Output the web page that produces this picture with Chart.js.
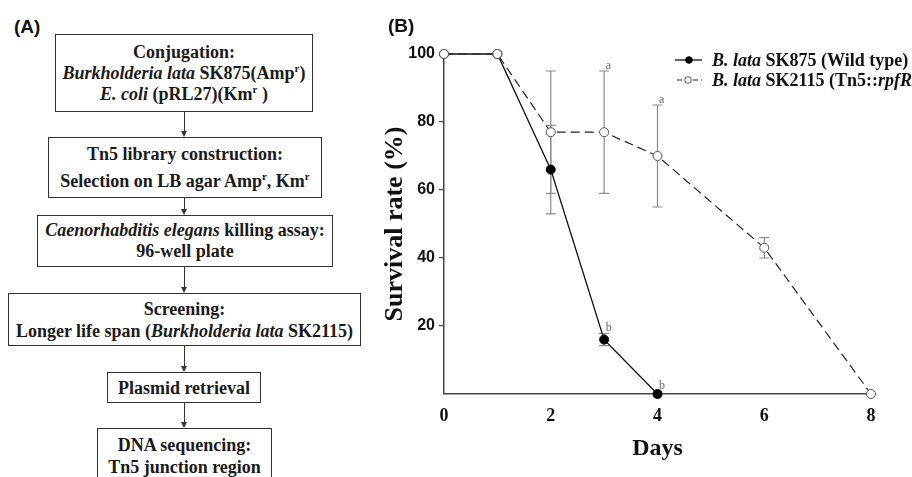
<!DOCTYPE html>
<html>
<head>
<meta charset="utf-8">
<script src="https://cdn.jsdelivr.net/npm/chart.js@4.4.1/dist/chart.umd.min.js"></script>
<style>
  html, body { margin:0; padding:0; background:#fff; }
  body { width:912px; height:477px; overflow:hidden; position:relative; }
  .panel { position:absolute; font:bold 19px "Liberation Sans", Arial, sans-serif; color:#111; }
  .box { position:absolute; box-sizing:border-box; border:1.6px solid #333; display:flex; flex-direction:column;
         justify-content:center; align-items:center; font:bold 18px "Liberation Serif", "Times New Roman", serif;
         color:#1a1a1a; white-space:nowrap; background:#fff; }
  .box sup { font-size:11px; vertical-align:7px; line-height:0; }
  .stem { position:absolute; width:1.6px; background:#333; }
  .head { position:absolute; width:0; height:0; border-left:3.5px solid transparent; border-right:3.5px solid transparent; border-top:6px solid #333; }
  #chartWrap { position:absolute; left:380px; top:0; width:532px; height:477px; }
</style>
</head>
<body>
<div class="panel" style="left:14px;top:16px;">(A)</div>
<div class="panel" style="left:388px;top:15px;z-index:2;">(B)</div>

<div class="box" style="left:55px;top:34px;width:258px;height:78px;line-height:21px;">
  <div>Conjugation:</div>
  <div><i>Burkholderia lata</i> SK875(Amp<sup>r</sup>)</div>
  <div><i>E. coli</i> (pRL27)(Km<sup>r</sup> )</div>
</div>
<div class="box" style="left:48px;top:137px;width:274px;height:61px;line-height:27px;">
  <div>Tn5 library construction:</div>
  <div>Selection on LB agar Amp<sup>r</sup>, Km<sup>r</sup></div>
</div>
<div class="box" style="left:37px;top:215px;width:296px;height:52px;line-height:21px;">
  <div><i>Caenorhabditis elegans</i> killing assay:</div>
  <div>96-well plate</div>
</div>
<div class="box" style="left:8px;top:293px;width:353px;height:53px;line-height:22px;">
  <div>Screening:</div>
  <div>Longer life span (<i>Burkholderia lata</i> SK2115)</div>
</div>
<div class="box" style="left:107px;top:372px;width:154px;height:31px;line-height:22px;">
  <div>Plasmid retrieval</div>
</div>
<div class="box" style="left:97px;top:428px;width:175px;height:62px;line-height:22px;justify-content:flex-start;padding-top:5px;">
  <div>DNA sequencing:</div>
  <div>Tn5 junction region</div>
</div>

<div id="arrows"></div>

<div id="chartWrap"><canvas id="c" width="532" height="477"></canvas></div>

<script>
// ---- Flowchart connectors (panel A) ----
const arrowSpans = [[112,137],[198,215],[267,293],[346,372],[403,428]];
const arrowsEl = document.getElementById('arrows');
arrowSpans.forEach(([a,b]) => {
  const s = document.createElement('div'); s.className='stem';
  s.style.left='183.5px'; s.style.top=a+'px'; s.style.height=(b-a-5)+'px';
  const h = document.createElement('div'); h.className='head';
  h.style.left='180.8px'; h.style.top=(b-6)+'px';
  arrowsEl.appendChild(s); arrowsEl.appendChild(h);
});

// ---- Data (panel B) ----
const wtDays      = [0, 1, 2, 3, 4];
const wtSurvival  = [100, 100, 66, 16, 0];
const wtError     = [0, 0, 13, 1.8, 0];
const mutDays     = [0, 1, 2, 3, 4, 6, 8];
const mutSurvival = [100, 100, 77, 77, 70, 43, 0];
const mutError    = [0, 0, 18, 18, 15, 3, 0];
const xTickValues = [0, 2, 4, 6, 8];
const yTickValues = [20, 40, 60, 80, 100];
const wtLabel  = 'B. lata SK875 (Wild type)';
const mutLabel = 'B. lata SK2115 (Tn5::rpfR)';
// significance letters: [dataset index, day, letter]
const sigLetters = [[1, 3, 'a'], [1, 4, 'a'], [0, 3, 'b'], [0, 4, 'b']];

const seriesData = [[wtDays, wtSurvival, wtError], [mutDays, mutSurvival, mutError]];

const errorBars = {
  id: 'errorBars',
  beforeDatasetsDraw(chart) {
    const {ctx, scales: {x, y}} = chart;
    ctx.save();
    ctx.strokeStyle = '#8c8c8c'; ctx.lineWidth = 1.2;
    seriesData.forEach(([d, s, e]) => {
      d.forEach((day, i) => {
        if (!e[i]) return;
        const px = x.getPixelForValue(day);
        const t = y.getPixelForValue(s[i] + e[i]);
        const b = y.getPixelForValue(s[i] - e[i]);
        ctx.beginPath();
        ctx.moveTo(px, t); ctx.lineTo(px, b);
        ctx.moveTo(px - 5, t); ctx.lineTo(px + 5, t);
        ctx.moveTo(px - 5, b); ctx.lineTo(px + 5, b);
        ctx.stroke();
      });
    });
    ctx.restore();
  },
  afterDatasetsDraw(chart) {
    const {ctx, scales: {x, y}} = chart;
    ctx.save();
    ctx.fillStyle = '#6a6a6a';
    ctx.font = '12px "Liberation Serif", serif';
    ctx.textAlign = 'left'; ctx.textBaseline = 'alphabetic';
    sigLetters.forEach(([ds, day, txt]) => {
      const [d, s, e] = seriesData[ds];
      const i = d.indexOf(day);
      const px = x.getPixelForValue(day);
      const py = y.getPixelForValue(s[i] + e[i]);
      ctx.fillText(txt, px + 1.5, py - (e[i] ? 2 : 5));
    });
    ctx.restore();
  }
};

const legendPlugin = {
  id: 'customLegend',
  afterDraw(chart) {
    const {ctx} = chart;
    const ds = chart.data.datasets;
    const rows = [
      {y: 60, x0: 295, x1: 322, mx: 309, dsi: 0,
       parts: [['B. lata', true], [' SK875 (Wild type)', false]]},
      {y: 80, x0: 297, x1: 322, mx: 308, dsi: 1,
       parts: [['B. lata', true], [' SK2115 (Tn5::', false], ['rpfR', true], [')', false]]}
    ];
    rows.forEach(r => {
      const d = ds[r.dsi];
      ctx.save();
      ctx.strokeStyle = d.borderColor; ctx.lineWidth = d.borderWidth;
      ctx.setLineDash(r.dsi === 1 ? [5, 3] : []);
      ctx.beginPath(); ctx.moveTo(r.x0, r.y); ctx.lineTo(r.x1, r.y); ctx.stroke();
      ctx.setLineDash([]);
      ctx.beginPath(); ctx.arc(r.mx, r.y, 3.3, 0, Math.PI * 2);
      ctx.fillStyle = d.pointBackgroundColor; ctx.fill();
      ctx.strokeStyle = d.pointBorderColor; ctx.lineWidth = 1; ctx.stroke();
      let tx = 332;
      ctx.fillStyle = '#111'; ctx.textBaseline = 'middle';
      r.parts.forEach(([t, it]) => {
        ctx.font = (it ? 'italic ' : '') + 'bold 18px "Liberation Serif", serif';
        ctx.fillText(t, tx, r.y + 1);
        tx += ctx.measureText(t).width;
      });
      ctx.restore();
    });
  }
};

new Chart(document.getElementById('c'), {
  type: 'line',
  data: {
    datasets: [
      {
        label: wtLabel,
        data: wtDays.map((d, i) => ({x: d, y: wtSurvival[i]})),
        borderColor: '#111', borderWidth: 1.3,
        pointRadius: 4.5, pointBackgroundColor: '#000', pointBorderColor: '#000', pointBorderWidth: 1,
        tension: 0, clip: false, order: 2
      },
      {
        label: mutLabel,
        data: mutDays.map((d, i) => ({x: d, y: mutSurvival[i]})),
        borderColor: '#222', borderWidth: 1.2, borderDash: [9, 5],
        pointRadius: 4.5, pointBackgroundColor: '#fff', pointBorderColor: '#555', pointBorderWidth: 1,
        tension: 0, clip: false, order: 1
      }
    ]
  },
  options: {
    responsive: false,
    animation: false,
    devicePixelRatio: 1,
    layout: {padding: {left: 0, top: 54, right: 41, bottom: 0}},
    plugins: {legend: {display: false}, tooltip: {enabled: false}},
    scales: {
      x: {
        type: 'linear', min: 0, max: 8,
        afterBuildTicks: s => { s.ticks = xTickValues.map(v => ({value: v})); },
        afterFit: s => { s.height = 83; },
        grid: {display: false, drawTicks: false},
        border: {display: true, color: '#444', width: 1.5},
        ticks: {color: '#111', padding: 12, font: {family: '"Liberation Serif", serif', weight: 'bold', size: 18}},
        title: {display: true, text: 'Days', color: '#111', padding: {top: 0, bottom: 14},
                font: {family: '"Liberation Serif", serif', weight: 'bold', size: 24}}
      },
      y: {
        min: 0, max: 100,
        afterBuildTicks: s => { s.ticks = [0].concat(yTickValues).map(v => ({value: v})); },
        afterFit: s => { s.width = 64; },
        grid: {display: true, drawOnChartArea: false, drawTicks: true, tickLength: 5,
               color: c => (c.tick && c.tick.value === 0) ? 'rgba(0,0,0,0)' : '#444', lineWidth: 1.2},
        border: {display: true, color: '#444', width: 1.5},
        ticks: {color: '#111', padding: 4,
                callback: v => yTickValues.includes(v) ? String(v) : '',
                font: {family: '"Liberation Sans", Arial, sans-serif', weight: 'bold', size: 16}},
        title: {display: true, text: 'Survival rate (%)', color: '#111', padding: {top: 0, bottom: 0},
                font: {family: '"Liberation Serif", serif', weight: 'bold', size: 26}}
      }
    }
  },
  plugins: [errorBars, legendPlugin]
});
</script>
</body>
</html>
